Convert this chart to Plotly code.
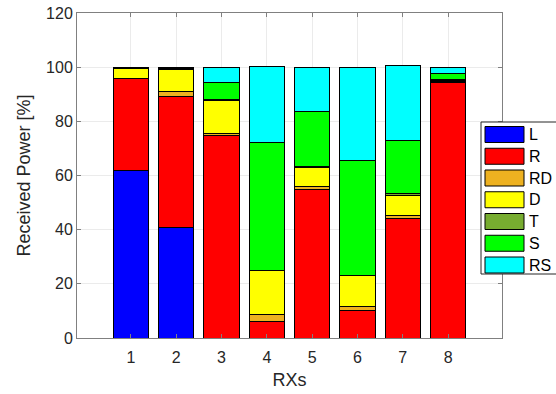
import plotly.graph_objects as go

rx = [1, 2, 3, 4, 5, 6, 7, 8]
series_names = ["L", "R", "RD", "D", "T", "S", "RS"]
colors = ["#0000FF", "#FF0000", "#EDB120", "#FFFF00", "#77AC30", "#00FF00", "#00FFFF"]

L_vals = [61.7, 40.7, 0.0, 0.0, 0.0, 0.0, 0.0, 0.0]
R_vals = [34.1, 48.5, 74.9, 6.0, 55.0, 10.0, 44.2, 94.3]
RD_vals = [0.2, 1.7, 0.6, 2.7, 0.8, 1.6, 0.9, 0.5]
D_vals = [3.6, 8.4, 12.3, 16.1, 7.3, 11.4, 7.6, 0.3]
T_vals = [0.1, 0.2, 0.3, 0.1, 0.2, 0.1, 0.5, 0.5]
S_vals = [0.1, 0.3, 6.1, 47.4, 20.3, 42.6, 19.7, 2.1]
RS_vals = [0.2, 0.2, 5.8, 28.0, 16.4, 34.3, 27.8, 2.3]

y_ticks = [0, 20, 40, 60, 80, 100, 120]

all_vals = [L_vals, R_vals, RD_vals, D_vals, T_vals, S_vals, RS_vals]

fig = go.Figure()
for name, col, vals in zip(series_names, colors, all_vals):
    fig.add_trace(go.Bar(
        x=rx, y=vals, name=name, width=0.78,
        marker=dict(color=col, line=dict(color="#000000", width=1)),
        showlegend=False,
    ))

text_col = "#262626"
axis_col = "#808080"

fig.update_layout(
    barmode="stack",
    width=556, height=394,
    margin=dict(l=77, r=54, t=13, b=56, autoexpand=False),
    paper_bgcolor="white", plot_bgcolor="white",
    font=dict(family="Liberation Sans, Arial, sans-serif", size=16, color=text_col),
)
fig.update_xaxes(
    range=[-0.19, 9.19], tickvals=rx, ticktext=[str(v) for v in rx],
    showline=True, linecolor=axis_col, linewidth=1, mirror="allticks",
    ticks="inside", ticklen=4, tickcolor=axis_col,
    showgrid=True, gridcolor="#EBEBEB", gridwidth=1, zeroline=False,
    automargin=False, ticklabelstandoff=5,
    title=dict(text="RXs", font=dict(size=18, color=text_col), standoff=8),
    tickfont=dict(size=16, color=text_col),
)
fig.update_yaxes(
    range=[0, 120], tickvals=y_ticks,
    showline=True, linecolor=axis_col, linewidth=1, mirror="allticks",
    ticks="inside", ticklen=4, tickcolor=axis_col,
    showgrid=True, gridcolor="#EBEBEB", gridwidth=1, zeroline=False,
    automargin=False,
    title=dict(text="Received Power [%]", font=dict(size=18, color=text_col), standoff=10),
    tickfont=dict(size=16, color=text_col),
)

# Custom legend box with large swatches, placed in pixel terms relative to the plot area
plot_x0, plot_w = 77.0, 425.0
plot_y1, plot_h = 338.0, 325.0


def px_x(p):
    return (p - plot_x0) / plot_w


def px_y(p):
    return (plot_y1 - p) / plot_h


fig.add_shape(type="rect", xref="paper", yref="paper",
              x0=px_x(481), x1=px_x(560), y0=px_y(274), y1=px_y(122),
              fillcolor="white", line=dict(color="#262626", width=1), layer="above")

for i, (name, col) in enumerate(zip(series_names, colors)):
    cy = 134.5 + 21.75 * i
    fig.add_shape(type="rect", xref="paper", yref="paper",
                  x0=px_x(485), x1=px_x(524), y0=px_y(cy + 8), y1=px_y(cy - 8),
                  fillcolor=col, line=dict(color="#000000", width=1), layer="above")
    fig.add_annotation(xref="paper", yref="paper", x=px_x(527), y=px_y(cy),
                       text=name, showarrow=False, xanchor="left", yanchor="middle",
                       font=dict(size=16, color="#000000"))

fig.write_html("out.html")
